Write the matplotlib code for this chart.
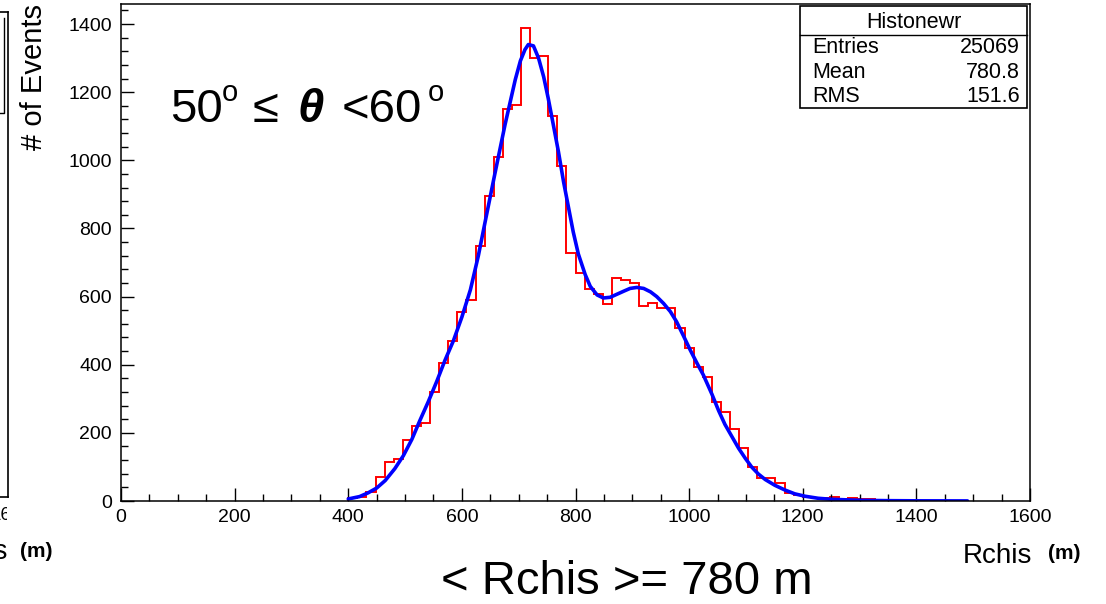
import numpy as np
import matplotlib
matplotlib.use("Agg")
import matplotlib.pyplot as plt
from matplotlib.ticker import MultipleLocator, FixedLocator
from matplotlib.lines import Line2D
from matplotlib.patches import Rectangle

# ---------------- data ----------------
bin_start = 400
bin_width = 16
counts = [8, 12, 27, 70, 115, 123, 179, 220, 230, 319, 404, 470, 556, 590,
          748, 895, 1011, 1150, 1162, 1389, 1301, 1306, 1130, 983, 729, 670,
          623, 608, 579, 656, 649, 639, 572, 582, 567, 567, 507, 450, 392, 365,
          290, 260, 212, 157, 101, 68, 68, 54, 24, 18, 11, 9, 8, 13, 5, 8, 5,
          5, 1, 3, 1, 0]

fit_x = [400, 420, 435, 450, 465, 482, 497, 512, 526, 541, 556, 570, 585,
         600, 615, 629, 641, 658, 676, 694, 703, 711, 717, 726, 735, 744,
         752, 761, 770, 779, 788, 796, 805, 817, 826, 838, 849, 861, 873,
         885, 896, 908, 920, 932, 943, 955, 967, 978, 990, 1002, 1014, 1025,
         1040, 1052, 1063, 1075, 1087, 1099, 1110, 1122, 1134, 1151, 1169,
         1186, 1204, 1227, 1250, 1300, 1350, 1400, 1490]
fit_y = [6, 13, 24, 38, 60, 95, 133, 181, 236, 292, 352, 412, 470,
         540, 620, 720, 820, 960, 1105, 1237, 1292, 1325, 1340, 1336, 1300, 1245,
         1182, 1104, 1025, 937, 859, 790, 725, 665, 630, 605, 596, 598, 607,
         616, 624, 627, 624, 614, 600, 580, 556, 526, 485, 443, 404, 370,
         314, 265, 225, 190, 155, 125, 100, 79, 63, 46, 32,
         21, 14, 8, 5, 2, 1, 0.5, 0.2]

x_ticks = [0, 200, 400, 600, 800, 1000, 1200, 1400, 1600]
y_ticks = [0, 200, 400, 600, 800, 1000, 1200, 1400]

stats_title = "Histonewr"
stats_labels = ["Entries", "Mean", "RMS"]
stats_values = ["25069", "780.8", "151.6"]

y_title = "# of Events"
x_title = "Rchis"
unit_text = "(m)"
mean_text = "< Rchis >= 780 m"

# ---------------- layout helpers ----------------
W, H = 1106, 604
plt.rcParams['font.family'] = ['Liberation Sans', 'DejaVu Sans']
fig = plt.figure(figsize=(W / 100, H / 100), dpi=100)


def fx(px):
    return px / W


def fy(py):
    return 1 - py / H


ax = fig.add_axes([fx(121), fy(501), fx(1030) - fx(121), fy(4) - fy(501)])

edges = bin_start + bin_width * np.arange(len(counts) + 1)
ax.stairs(counts, edges, color='#ff0000', lw=1.4, baseline=0)
ax.plot(fit_x, fit_y, color='#0000ff', lw=2.6, solid_capstyle='round',
        solid_joinstyle='round')

ax.set_xlim(0, 1600)
ax.set_ylim(0, 1459)
ax.xaxis.set_major_locator(FixedLocator(x_ticks))
ax.yaxis.set_major_locator(FixedLocator(y_ticks))
ax.set_xticklabels([str(v) for v in x_ticks])
ax.set_yticklabels([str(v) for v in y_ticks])
ax.xaxis.set_minor_locator(MultipleLocator(50))
ax.yaxis.set_minor_locator(MultipleLocator(40))
ax.tick_params(axis='both', which='major', direction='in', length=9.5,
               width=1.0, labelsize=14, colors='black')
ax.tick_params(axis='both', which='minor', direction='in', length=5,
               width=1.0)
ax.tick_params(axis='x', which='major', pad=5.5)
ax.tick_params(axis='y', which='major', pad=6.5)
for s in ax.spines.values():
    s.set_linewidth(1.1)

# ---------------- stats box ----------------
bx0, by0, bx1, by1 = 800, 6, 1027, 108
fig.patches.append(Rectangle((fx(bx0), fy(by1)), fx(bx1) - fx(bx0),
                             fy(by0) - fy(by1), transform=fig.transFigure,
                             facecolor='white', edgecolor='black', lw=1.2,
                             zorder=5))
fig.lines.append(Line2D([fx(bx0), fx(bx1)], [fy(35), fy(35)],
                        transform=fig.transFigure, color='black', lw=1.0,
                        zorder=6))
fig.text(fx((bx0 + bx1) / 2), fy(28), stats_title, ha='center',
         va='baseline', fontsize=15.5, zorder=7)
for i, (lab, val) in enumerate(zip(stats_labels, stats_values)):
    yy = 53 + i * 24.5
    fig.text(fx(812), fy(yy), lab, ha='left', va='baseline', fontsize=15.5,
             zorder=7)
    fig.text(fx(1020), fy(yy), val, ha='right', va='baseline', fontsize=15.5,
             zorder=7)

# ---------------- axis titles ----------------
fig.text(fx(34), fy(150), y_title, rotation=90, ha='center', va='bottom',
         fontsize=21)
fig.text(fx(1032), fy(563), x_title, ha='right', va='baseline', fontsize=20)
fig.text(fx(1048), fy(559), unit_text, ha='left', va='baseline', fontsize=15,
         fontweight='bold')

# ---------------- annotations ----------------
big = 34
fig.text(fx(170), fy(122), "50", fontsize=big, va='baseline', ha='left')
fig.text(fx(222), fy(101), "o", fontsize=21, va='baseline', ha='left')
fig.text(fx(253), fy(122), "\u2264", fontsize=big, va='baseline', ha='left')
fig.text(fx(298), fy(122), "\u03b8", fontsize=big, va='baseline', ha='left',
         fontweight='bold', fontstyle='italic')
fig.text(fx(342), fy(122), "<60", fontsize=big, va='baseline', ha='left')
fig.text(fx(428), fy(101), "o", fontsize=21, va='baseline', ha='left')

fig.text(fx(627), fy(594), mean_text, fontsize=34, va='baseline', ha='center')

# ---------------- partial neighbouring panel at the left edge ----------------
fig.lines.append(Line2D([fx(8), fx(8)], [fy(12), fy(497)],
                        transform=fig.transFigure, color='black', lw=1.2))
fig.lines.append(Line2D([fx(0), fx(8)], [fy(497), fy(497)],
                        transform=fig.transFigure, color='black', lw=1.2))
fig.lines.append(Line2D([fx(0), fx(8)], [fy(12), fy(12)],
                        transform=fig.transFigure, color='black', lw=1.2))
fig.lines.append(Line2D([fx(4), fx(4), fx(0)], [fy(18), fy(113), fy(113)],
                        transform=fig.transFigure, color='black', lw=1.0))
clip_rect = Rectangle((0, 0), fx(7), 1, transform=fig.transFigure)
t = fig.text(fx(12), fy(516), "1600", ha='center', va='center', fontsize=13.5)
t.set_clip_path(clip_rect)
fig.text(fx(8), fy(559), x_title, ha='right', va='baseline', fontsize=20)
fig.text(fx(20), fy(557), unit_text, ha='left', va='baseline', fontsize=15,
         fontweight='bold')

fig.savefig("out.png", dpi=100)
